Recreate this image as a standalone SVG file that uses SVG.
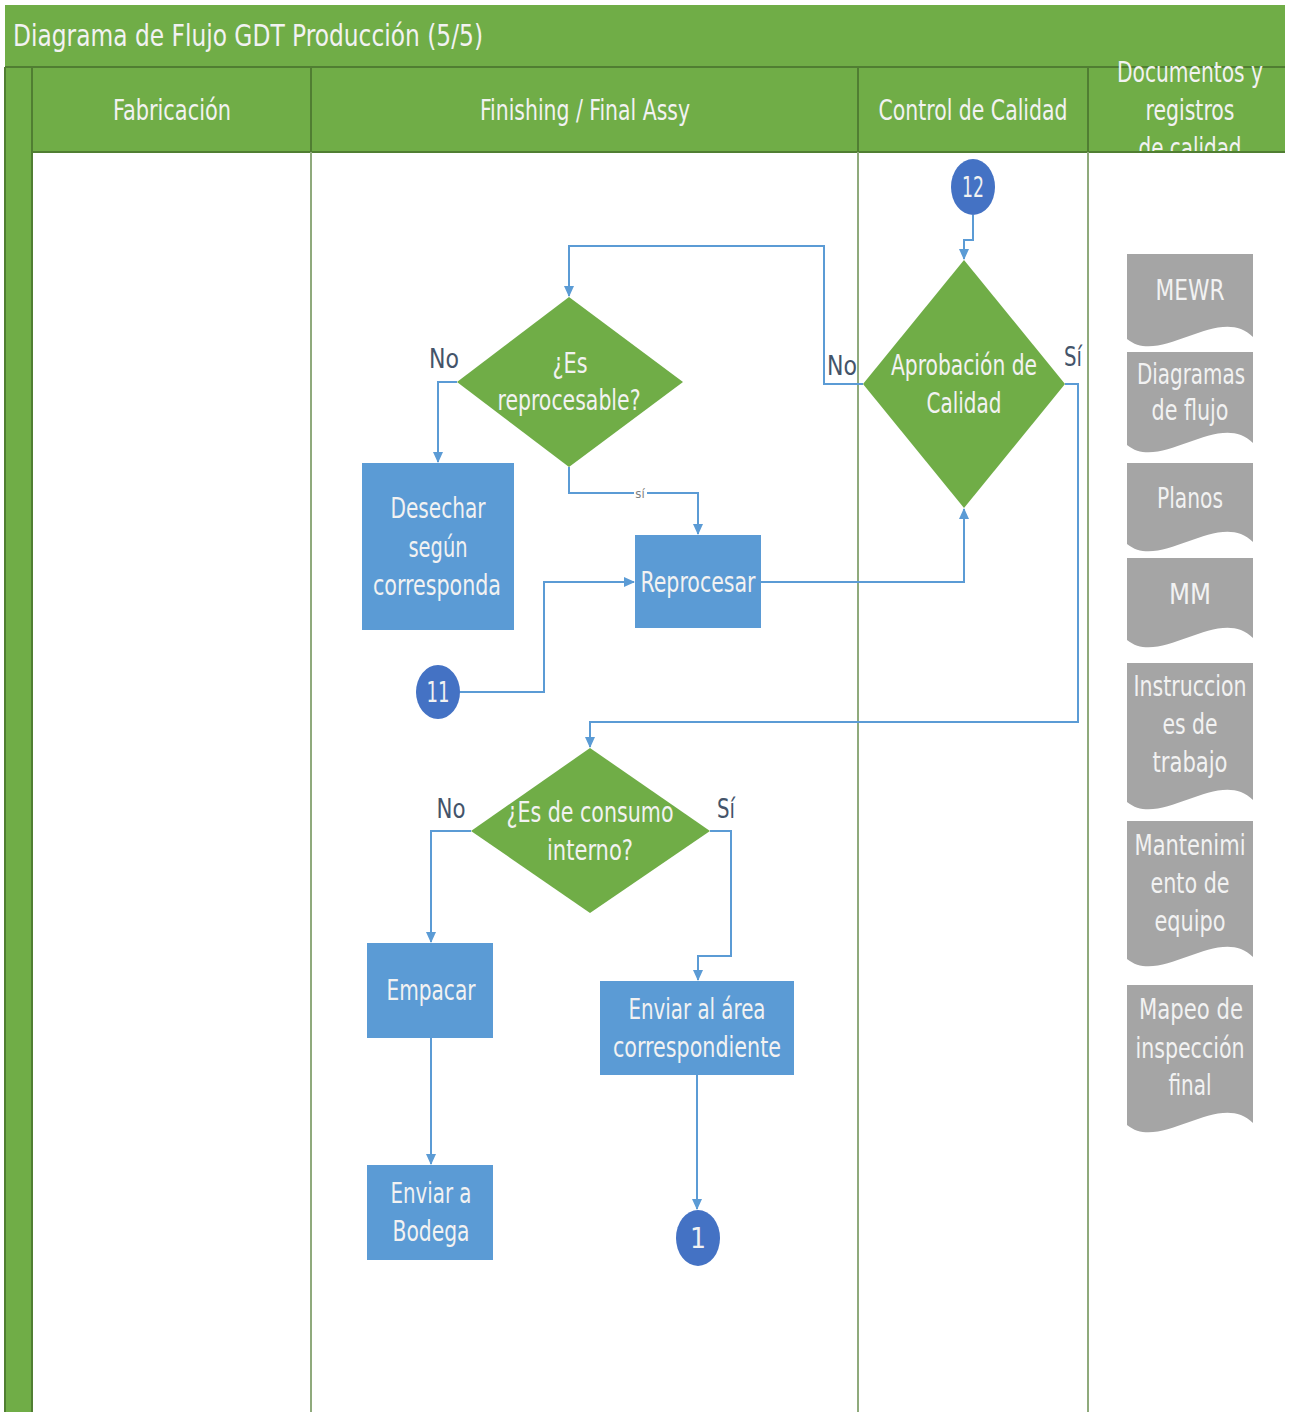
<svg xmlns="http://www.w3.org/2000/svg" width="1289" height="1412" viewBox="0 0 1289 1412">
<style>
.t{font-family:"DejaVu Sans Condensed","Liberation Sans",sans-serif;text-anchor:middle}
.hdr{font-size:28px;fill:#F2F2F2}
.box{fill:#5B9BD5}
.dia{fill:#70AD47}
.doc{fill:#A5A5A5}
.circ{fill:#4472C4}
.wt{font-size:28px;fill:#F2F2F2}
.lbl{font-size:27px;fill:#44546A}
.con{fill:none;stroke:#5B9BD5;stroke-width:2}
.lane{stroke:#8FAA7C;stroke-width:2}
.lh{stroke:#507E32;stroke-width:2}
</style>
<defs>
<marker id="ah" markerWidth="11" markerHeight="10" refX="10" refY="5" orient="auto" markerUnits="userSpaceOnUse">
<path d="M0,0 L11,5 L0,10 Z" fill="#5B9BD5"/>
</marker>
<clipPath id="hc"><rect x="1088" y="40" width="200" height="111"/></clipPath>
</defs>
<rect x="0" y="0" width="1289" height="1412" fill="#FFFFFF"/>
<g id="pool">
<rect x="5" y="5" width="1280" height="62" fill="#70AD47"/>
<text x="13" y="46" style="font-family:'DejaVu Sans Condensed','Liberation Sans',sans-serif;font-size:30px;fill:#F2F2F2" textLength="470" lengthAdjust="spacingAndGlyphs">Diagrama de Flujo GDT Producción (5/5)</text>
<rect x="5" y="67" width="1280" height="85" fill="#70AD47"/>
<rect x="5" y="67" width="27" height="1345" fill="#70AD47"/>
<line x1="5" y1="67" x2="1285" y2="67" class="lh"/>
<line x1="32" y1="152" x2="1285" y2="152" class="lh"/>
<line x1="32" y1="67" x2="32" y2="1412" class="lh"/>
<line x1="5" y1="67" x2="5" y2="1412" class="lh"/>
<line x1="311" y1="67" x2="311" y2="152" class="lh"/>
<line x1="858" y1="67" x2="858" y2="152" class="lh"/>
<line x1="1088" y1="67" x2="1088" y2="152" class="lh"/>
<line x1="311" y1="152" x2="311" y2="1412" class="lane"/>
<line x1="858" y1="152" x2="858" y2="1412" class="lane"/>
<line x1="1088" y1="152" x2="1088" y2="1412" class="lane"/>
<text class="t hdr" x="172" y="120" textLength="118" lengthAdjust="spacingAndGlyphs">Fabricación</text>
<text class="t hdr" x="585" y="120" textLength="210" lengthAdjust="spacingAndGlyphs">Finishing / Final Assy</text>
<text class="t hdr" x="973" y="120" textLength="189" lengthAdjust="spacingAndGlyphs">Control de Calidad</text>
<g clip-path="url(#hc)">
<text class="t hdr" x="1190" y="82" textLength="146" lengthAdjust="spacingAndGlyphs">Documentos y</text>
<text class="t hdr" x="1190" y="120" textLength="89" lengthAdjust="spacingAndGlyphs">registros</text>
<text class="t hdr" x="1190" y="158" textLength="103" lengthAdjust="spacingAndGlyphs">de calidad</text>
</g>
</g>
<g id="connectors">
<polyline class="con" points="973,215 973,240 964,240 964,259" marker-end="url(#ah)"/>
<polyline class="con" points="863,384 824,384 824,246 569,246 569,296" marker-end="url(#ah)"/>
<polyline class="con" points="457,382 438,382 438,462" marker-end="url(#ah)"/>
<polyline class="con" points="569,467 569,493 698,493 698,534" marker-end="url(#ah)"/>
<polyline class="con" points="761,582 964,582 964,509" marker-end="url(#ah)"/>
<polyline class="con" points="460,692 544,692 544,582 634,582" marker-end="url(#ah)"/>
<polyline class="con" points="1065,384 1078,384 1078,722 590,722 590,747" marker-end="url(#ah)"/>
<polyline class="con" points="471,831 431,831 431,942" marker-end="url(#ah)"/>
<polyline class="con" points="710,831 731,831 731,956 698,956 698,980" marker-end="url(#ah)"/>
<polyline class="con" points="431,1038 431,1164" marker-end="url(#ah)"/>
<polyline class="con" points="697,1075 697,1209" marker-end="url(#ah)"/>
<text class="t lbl" x="842" y="375" textLength="30" lengthAdjust="spacingAndGlyphs">No</text>
<text class="t lbl" x="444" y="368" textLength="30" lengthAdjust="spacingAndGlyphs">No</text>
<text class="t lbl" x="1073" y="366" textLength="18" lengthAdjust="spacingAndGlyphs">Sí</text>
<rect x="634" y="486" width="13" height="13" fill="#FFFFFF"/>
<text class="t" x="640" y="498" style="font-size:13px;fill:#7F7F7F">sí</text>
<text class="t lbl" x="451" y="818" textLength="29" lengthAdjust="spacingAndGlyphs">No</text>
<text class="t lbl" x="726" y="818" textLength="18" lengthAdjust="spacingAndGlyphs">Sí</text>
</g>
<g id="n12">
<ellipse class="circ" cx="973" cy="187" rx="22" ry="28"/>
<text class="t wt" x="973" y="197" textLength="22" lengthAdjust="spacingAndGlyphs">12</text>
</g>
<g id="aprobacion">
<polygon class="dia" points="964,260 1065,384 964,508 863,384"/>
<text class="t wt" x="964" y="375" textLength="146" lengthAdjust="spacingAndGlyphs">Aprobación de</text>
<text class="t wt" x="964" y="413" textLength="75" lengthAdjust="spacingAndGlyphs">Calidad</text>
</g>
<g id="reprocesable">
<polygon class="dia" points="569,297 683,382 569,467 457,382"/>
<text class="t wt" x="570" y="373" textLength="35" lengthAdjust="spacingAndGlyphs">¿Es</text>
<text class="t wt" x="569" y="410" textLength="143" lengthAdjust="spacingAndGlyphs">reprocesable?</text>
</g>
<g id="desechar">
<rect class="box" x="362" y="463" width="152" height="167"/>
<text class="t wt" x="438" y="518" textLength="95" lengthAdjust="spacingAndGlyphs">Desechar</text>
<text class="t wt" x="438" y="557" textLength="59" lengthAdjust="spacingAndGlyphs">según</text>
<text class="t wt" x="437" y="595" textLength="128" lengthAdjust="spacingAndGlyphs">corresponda</text>
</g>
<g id="reprocesar">
<rect class="box" x="635" y="535" width="126" height="93"/>
<text class="t wt" x="698" y="592" textLength="115" lengthAdjust="spacingAndGlyphs">Reprocesar</text>
</g>
<g id="n11">
<ellipse class="circ" cx="438" cy="692" rx="22" ry="27"/>
<text class="t wt" x="438" y="702" textLength="23" lengthAdjust="spacingAndGlyphs">11</text>
</g>
<g id="consumo">
<polygon class="dia" points="590,748 710,831 590,913 471,831"/>
<text class="t wt" x="590" y="822" textLength="167" lengthAdjust="spacingAndGlyphs">¿Es de consumo</text>
<text class="t wt" x="590" y="860" textLength="86" lengthAdjust="spacingAndGlyphs">interno?</text>
</g>
<g id="empacar">
<rect class="box" x="367" y="943" width="126" height="95"/>
<text class="t wt" x="431" y="1000" textLength="89" lengthAdjust="spacingAndGlyphs">Empacar</text>
</g>
<g id="enviar-area">
<rect class="box" x="600" y="981" width="194" height="94"/>
<text class="t wt" x="697" y="1019" textLength="137" lengthAdjust="spacingAndGlyphs">Enviar al área</text>
<text class="t wt" x="697" y="1057" textLength="168" lengthAdjust="spacingAndGlyphs">correspondiente</text>
</g>
<g id="bodega">
<rect class="box" x="367" y="1165" width="126" height="95"/>
<text class="t wt" x="431" y="1203" textLength="81" lengthAdjust="spacingAndGlyphs">Enviar a</text>
<text class="t wt" x="431" y="1241" textLength="77" lengthAdjust="spacingAndGlyphs">Bodega</text>
</g>
<g id="n1">
<ellipse class="circ" cx="698" cy="1238" rx="22" ry="28"/>
<text class="t wt" x="698" y="1248">1</text>
</g>
<g id="doc-mewr">
<path class="doc" d="M1127,254 H1253 V337 C1219,303 1161,367 1127,339 Z"/>
<text class="t wt" x="1190" y="300" textLength="69" lengthAdjust="spacingAndGlyphs">MEWR</text>
</g>
<g id="doc-diagramas">
<path class="doc" d="M1127,352 H1253 V443 C1219,409 1161,473 1127,445 Z"/>
<text class="t wt" x="1191" y="384" textLength="108" lengthAdjust="spacingAndGlyphs">Diagramas</text>
<text class="t wt" x="1190" y="420" textLength="77" lengthAdjust="spacingAndGlyphs">de flujo</text>
</g>
<g id="doc-planos">
<path class="doc" d="M1127,463 H1253 V542 C1219,508 1161,572 1127,544 Z"/>
<text class="t wt" x="1190" y="508" textLength="66" lengthAdjust="spacingAndGlyphs">Planos</text>
</g>
<g id="doc-mm">
<path class="doc" d="M1127,558 H1253 V638 C1219,604 1161,668 1127,640 Z"/>
<text class="t wt" x="1190" y="604" textLength="42" lengthAdjust="spacingAndGlyphs">MM</text>
</g>
<g id="doc-instrucciones">
<path class="doc" d="M1127,663 H1253 V800 C1219,766 1161,830 1127,802 Z"/>
<text class="t wt" x="1190" y="696" textLength="113" lengthAdjust="spacingAndGlyphs">Instruccion</text>
<text class="t wt" x="1190" y="734" textLength="55" lengthAdjust="spacingAndGlyphs">es de</text>
<text class="t wt" x="1190" y="772" textLength="75" lengthAdjust="spacingAndGlyphs">trabajo</text>
</g>
<g id="doc-mantenimiento">
<path class="doc" d="M1127,821 H1253 V957 C1219,923 1161,987 1127,959 Z"/>
<text class="t wt" x="1190" y="855" textLength="111" lengthAdjust="spacingAndGlyphs">Mantenimi</text>
<text class="t wt" x="1190" y="893" textLength="79" lengthAdjust="spacingAndGlyphs">ento de</text>
<text class="t wt" x="1190" y="931" textLength="71" lengthAdjust="spacingAndGlyphs">equipo</text>
</g>
<g id="doc-mapeo">
<path class="doc" d="M1127,985 H1253 V1123 C1219,1089 1161,1153 1127,1125 Z"/>
<text class="t wt" x="1191" y="1019" textLength="104" lengthAdjust="spacingAndGlyphs">Mapeo de</text>
<text class="t wt" x="1190" y="1058" textLength="109" lengthAdjust="spacingAndGlyphs">inspección</text>
<text class="t wt" x="1190" y="1095" textLength="43" lengthAdjust="spacingAndGlyphs">final</text>
</g>
</svg>
